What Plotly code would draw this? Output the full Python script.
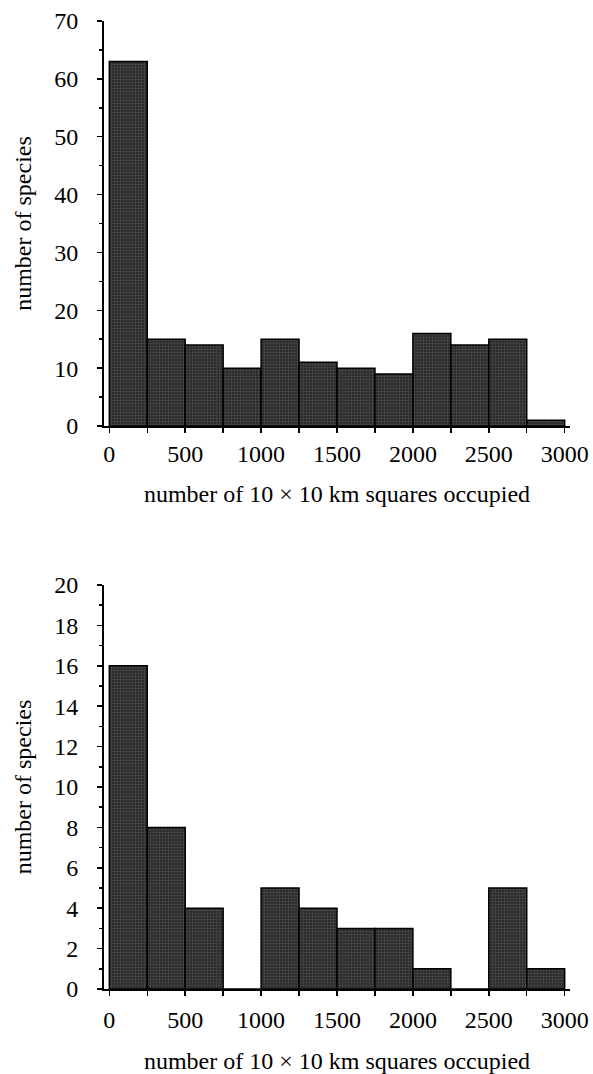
import plotly.graph_objects as go

# data
bin_starts = [0, 250, 500, 750, 1000, 1250, 1500, 1750, 2000, 2250, 2500, 2750]
bin_width = 250
top_counts = [63, 15, 14, 10, 15, 11, 10, 9, 16, 14, 15, 1]
bottom_counts = [16, 8, 4, 0, 5, 4, 3, 3, 1, 0, 5, 1]
x_ticks = [0, 500, 1000, 1500, 2000, 2500, 3000]
top_y_ticks = [0, 10, 20, 30, 40, 50, 60, 70]
bottom_y_ticks = [0, 2, 4, 6, 8, 10, 12, 14, 16, 18, 20]
x_title = "number of 10 × 10 km squares occupied"
y_title = "number of species"

W, H = 593, 1074
FONT = "Times New Roman, Liberation Serif, serif"
FS = 24

def bar(counts, xa, ya):
    return go.Bar(
        x=bin_starts, y=counts, width=[bin_width] * len(bin_starts), offset=0,
        xaxis=xa, yaxis=ya,
        marker=dict(
            color="#333333",
            line=dict(color="black", width=1.5),
            pattern=dict(shape="+", fgcolor="#555555", bgcolor="#2c2c2c", size=3, solidity=0.25),
        ),
        showlegend=False, hoverinfo="skip",
    )

fig = go.Figure()
fig.add_trace(bar(top_counts, "x", "y"))
fig.add_trace(bar(bottom_counts, "x2", "y2"))

xdom = [104 / W, 570 / W]
top_dom = [1 - 426 / H, 1 - 21 / H]
bot_dom = [1 - 989 / H, 1 - 585 / H]

def xaxis(domain, anchor, label_off, title_off):
    return dict(
        domain=domain, anchor=anchor, range=[-35, 3035], automargin=False,
        tickvals=x_ticks, ticktext=[str(v) for v in x_ticks],
        showline=True, linecolor="black", linewidth=2,
        ticks="outside", ticklen=5, tickwidth=1.5, tickcolor="black",
        minor=dict(dtick=250, tick0=0, ticks="outside", ticklen=5, tickwidth=1.5, tickcolor="black"),
        showgrid=False, zeroline=False,
        tickfont=dict(family=FONT, size=FS, color="black"),
        ticklabelstandoff=label_off,
        title=dict(text=x_title, font=dict(family=FONT, size=FS, color="black"), standoff=title_off),
    )

def yaxis(domain, anchor, rng, ticks, minor_dtick):
    return dict(
        domain=domain, anchor=anchor, range=rng, automargin=False,
        tickvals=ticks, ticktext=[str(v) for v in ticks],
        showline=True, linecolor="black", linewidth=2,
        ticks="outside", ticklen=5, tickwidth=1.5, tickcolor="black",
        minor=dict(dtick=minor_dtick, tick0=0, ticks="outside", ticklen=3, tickwidth=1.5, tickcolor="black"),
        showgrid=False, zeroline=False,
        tickfont=dict(family=FONT, size=FS, color="black"),
        ticklabelstandoff=14,
        title=dict(text=y_title, font=dict(family=FONT, size=FS, color="black"), standoff=16),
    )

fig.update_layout(
    template="none",
    width=W, height=H,
    margin=dict(l=0, r=0, t=0, b=0, autoexpand=False),
    paper_bgcolor="white", plot_bgcolor="white",
    bargap=0,
    xaxis=xaxis(xdom, "y", 0, 19),
    yaxis=yaxis(top_dom, "x", [0, 70], top_y_ticks, 5),
    xaxis2=xaxis(xdom, "y2", 3, 21),
    yaxis2=yaxis(bot_dom, "x2", [0, 20], bottom_y_ticks, 1),
)

fig.write_html(
    "out.html",
    config={"displayModeBar": False, "staticPlot": True},
    post_script="document.body.style.margin='0';document.body.style.overflow='hidden';",
)
